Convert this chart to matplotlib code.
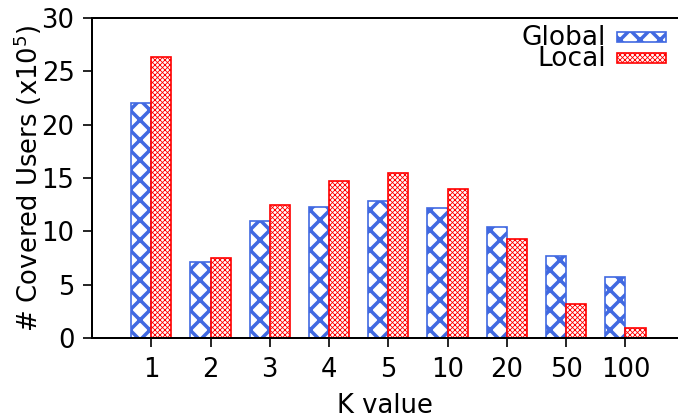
import matplotlib
matplotlib.use("Agg")
import matplotlib.pyplot as plt
from matplotlib.patches import Rectangle
import numpy as np

k_labels = ["1", "2", "3", "4", "5", "10", "20", "50", "100"]
global_vals = [22.0, 7.1, 11.0, 12.3, 12.8, 12.2, 10.4, 7.7, 5.7]
local_vals = [26.3, 7.5, 12.5, 14.7, 15.5, 14.0, 9.3, 3.2, 0.9]
series_names = ["Global", "Local"]

DPI = 120
W, H = 678, 419
plt.rcParams['hatch.linewidth'] = 1.5
plt.rcParams['font.family'] = ['DejaVu Sans']

fig = plt.figure(figsize=(W / DPI, H / DPI), dpi=DPI)
AX_L, AX_T, AX_B = 92, 18, 338
ax = fig.add_axes([AX_L / W, 1 - AX_B / H, 1 - AX_L / W, (AX_B - AX_T) / H])


def axx(px):
    return (px - AX_L) / (W - AX_L)


def axy(py):
    return (AX_B - py) / (AX_B - AX_T)


x = np.arange(len(k_labels))
bw = 0.34
blue = '#4169E1'
red = '#FF0000'
styles = [dict(edgecolor=blue, hatch='xx', hlw=2.1),
          dict(edgecolor=red, hatch='xxxxxxxx', hlw=0.5)]

gb = ax.bar(x - bw / 2, global_vals, bw, facecolor='white', edgecolor=blue,
            hatch=styles[0]['hatch'], linewidth=1.0)
lb = ax.bar(x + bw / 2, local_vals, bw, facecolor='white', edgecolor=red,
            hatch=styles[1]['hatch'], linewidth=1.0)
for cont, st in zip([gb, lb], styles):
    for p in cont.patches:
        try:
            p.set_hatch_linewidth(st['hlw'])
        except Exception:
            pass

ax.set_xlim(-1.0, (W - 151) / 59.3)
ax.set_ylim(0, 30)
ax.set_yticks([0, 5, 10, 15, 20, 25, 30])
ax.set_xticks(x)
ax.set_xticklabels(k_labels)
ax.tick_params(axis='both', labelsize=15.5, direction='out', length=5.5,
               width=1.0, color='black')
ax.tick_params(axis='x', pad=6)
ax.tick_params(axis='y', pad=5)
ax.spines['right'].set_visible(False)
for s in ['left', 'bottom', 'top']:
    ax.spines[s].set_linewidth(1.2)

ax.set_xlabel('K value', fontsize=15.5, va='baseline')
ax.xaxis.set_label_coords(0.5, axy(413))
ax.set_ylabel('# Covered Users (x10$^5$)', fontsize=15.5)
ax.yaxis.set_label_coords(axx(44), 0.5)

# legend (gnuplot style: right-aligned text, hatched sample to its right)
for i, (name, st) in enumerate(zip(series_names, styles)):
    base = 45 + 20.5 * i
    ax.text(axx(606), axy(base), name, ha='right', va='baseline',
            fontsize=15.8, transform=ax.transAxes)
    top = 32 + 20.5 * i
    r = Rectangle((axx(617), axy(top + 10)), axx(666) - axx(617),
                  axy(top) - axy(top + 10), transform=ax.transAxes,
                  facecolor='white', edgecolor=st['edgecolor'],
                  hatch=st['hatch'], linewidth=1.0, clip_on=False)
    try:
        r.set_hatch_linewidth(st['hlw'])
    except Exception:
        pass
    ax.add_patch(r)

fig.savefig('out.png', dpi=DPI)
